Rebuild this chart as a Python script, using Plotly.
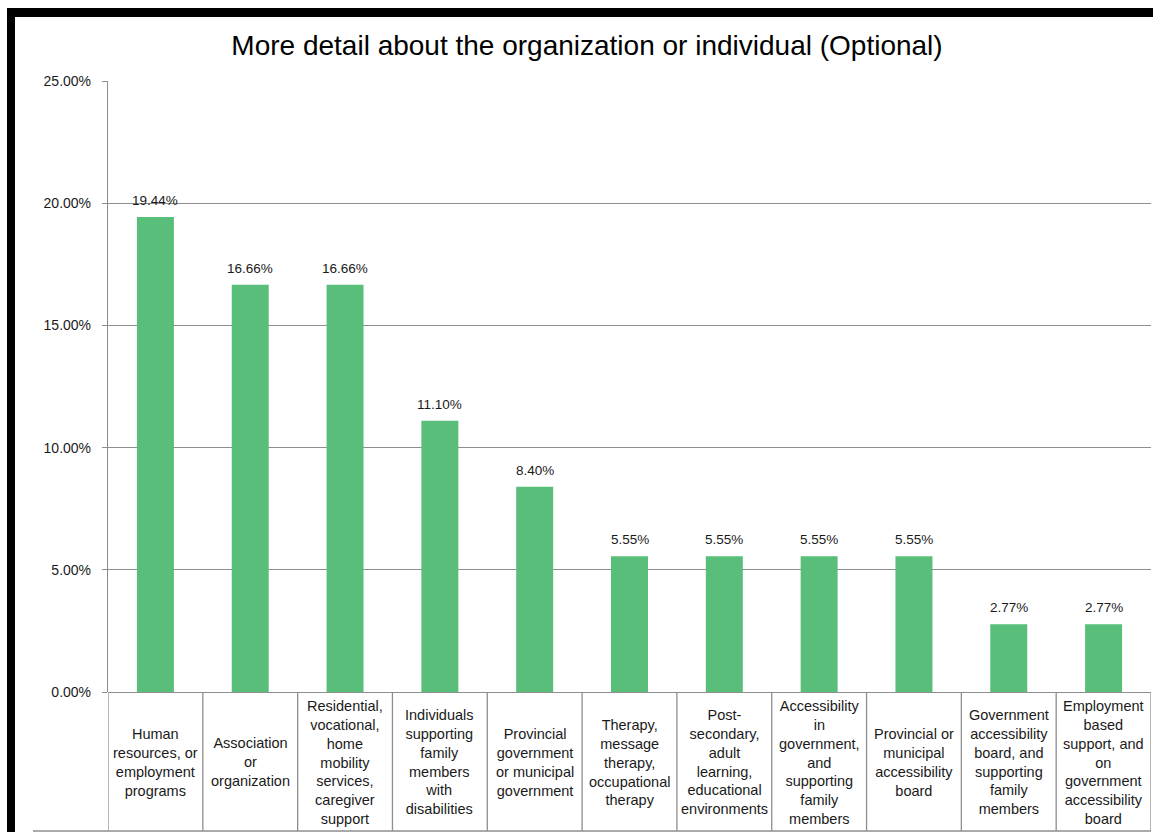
import plotly.graph_objects as go

# Survey responses: share of respondents per organization / individual type
categories = [
    ["Human", "resources, or", "employment", "programs"],
    ["Association", "or", "organization"],
    ["Residential,", "vocational,", "home", "mobility", "services,", "caregiver", "support"],
    ["Individuals", "supporting", "family", "members", "with", "disabilities"],
    ["Provincial", "government", "or municipal", "government"],
    ["Therapy,", "message", "therapy,", "occupational", "therapy"],
    ["Post-", "secondary,", "adult", "learning,", "educational", "environments"],
    ["Accessibility", "in", "government,", "and", "supporting", "family", "members"],
    ["Provincial or", "municipal", "accessibility", "board"],
    ["Government", "accessibility", "board, and", "supporting", "family", "members"],
    ["Employment", "based", "support, and", "on", "government", "accessibility", "board"],
]
shares = [0.1944, 0.1666, 0.1666, 0.1110, 0.0840, 0.0555, 0.0555, 0.0555, 0.0555, 0.0277, 0.0277]
y_ticks = [0.0, 0.05, 0.10, 0.15, 0.20, 0.25]

TITLE = "More detail about the organization or individual (Optional)"
BAR_COLOR = "#58BE79"
GRID = "#8E8E8E"
FONT = "Liberation Sans"

n = len(shares)
x_pos = list(range(n))

fig = go.Figure(
    go.Bar(
        x=x_pos,
        y=shares,
        width=0.39,
        marker=dict(color=BAR_COLOR, line=dict(width=0)),
        hoverinfo="skip",
    )
)

W, H = 1153, 832
left, right, top, bottom = 108, 2, 81, 140
plot_h = H - top - bottom
plot_w = W - left - right


def py(pix):
    """Pixel row -> paper y."""
    return (H - bottom - pix) / plot_h


def px(pix):
    """Pixel column -> paper x."""
    return (pix - left) / plot_w


annotations = []
# value labels above the bars
for i, v in enumerate(shares):
    annotations.append(dict(
        x=i, y=v, xref="x", yref="y", text=f"{v * 100:.2f}%",
        showarrow=False, yanchor="bottom", yshift=7,
        font=dict(family=FONT, size=13.5, color="#1a1a1a"),
    ))
# category labels inside the table cells below the axis
for i, lines in enumerate(categories):
    annotations.append(dict(
        x=i, y=py(762), xref="x", yref="paper", text="<br>".join(lines),
        showarrow=False, yanchor="middle", xanchor="center", align="center",
        font=dict(family=FONT, size=14.5, color="#1a1a1a"),
    ))

shapes = []
# table cell dividers
for k in range(n + 1):
    shapes.append(dict(
        type="line", xref="x", yref="paper", x0=k - 0.5, x1=k - 0.5,
        y0=0, y1=py(831), line=dict(color=GRID, width=1.3),
    ))
# table bottom rule
shapes.append(dict(
    type="line", xref="paper", yref="paper", x0=px(33), x1=px(1151),
    y0=py(831), y1=py(831), line=dict(color=GRID, width=1.3),
))
# frame around the chart (top and left edges)
shapes.append(dict(
    type="rect", xref="paper", yref="paper", x0=px(7), x1=px(1160),
    y0=py(17), y1=py(8), fillcolor="black", line=dict(width=0), layer="above",
))
shapes.append(dict(
    type="rect", xref="paper", yref="paper", x0=px(7), x1=px(15),
    y0=py(840), y1=py(8), fillcolor="black", line=dict(width=0), layer="above",
))

fig.update_layout(
    width=W, height=H,
    margin=dict(l=left, r=right, t=top, b=bottom),
    paper_bgcolor="white", plot_bgcolor="white",
    showlegend=False,
    bargap=0.61,
    title=dict(
        text=TITLE, x=587 / W, xanchor="center", xref="container",
        y=1 - 45 / H, yanchor="middle", yref="container",
        font=dict(family=FONT, size=28, color="black"),
    ),
    xaxis=dict(
        range=[-0.5, n - 0.5], showticklabels=False, showgrid=False,
        ticks="", zeroline=False, showline=False, fixedrange=True,
    ),
    yaxis=dict(
        range=[0, 0.25], tickvals=y_ticks, tickformat=".2%",
        showgrid=True, gridcolor=GRID, gridwidth=1.3,
        zeroline=True, zerolinecolor=GRID, zerolinewidth=1.3,
        showline=True, linecolor=GRID, linewidth=1.3,
        ticks="outside", ticklen=5, tickcolor=GRID, tickwidth=1.3,
        ticklabelstandoff=8,
        tickfont=dict(family=FONT, size=14, color="#1a1a1a"),
        fixedrange=True,
    ),
    annotations=annotations,
    shapes=shapes,
)

fig.write_html("out.html", config={"displayModeBar": False})
